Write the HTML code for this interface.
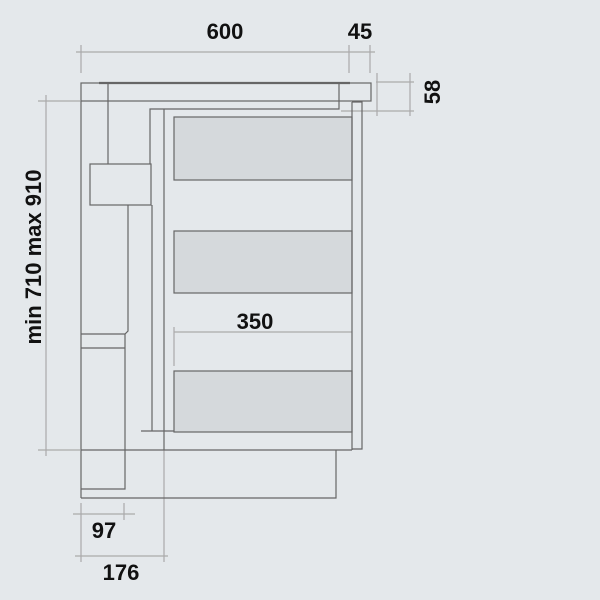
<!DOCTYPE html>
<html><head><style>
body{margin:0;background:#e4e8eb;}
svg{display:block}
text{font-family:"Liberation Sans",sans-serif;font-weight:bold;fill:#111;font-size:22px}
</style></head><body>
<svg width="600" height="600" viewBox="0 0 600 600">
<rect width="600" height="600" fill="#e4e8eb"/>
<g fill="#d5d9dc" stroke="#666" stroke-width="1.2">
<rect x="174" y="117" width="178" height="63"/>
<rect x="174" y="231" width="178" height="62"/>
<rect x="174" y="371" width="178" height="61"/>
</g>
<g fill="none" stroke="#aaa" stroke-width="1.2">
<line x1="76" y1="52" x2="375" y2="52"/>
<line x1="81" y1="45" x2="81" y2="73"/>
<line x1="349" y1="45" x2="349" y2="73"/>
<line x1="370" y1="45" x2="370" y2="73"/>
<line x1="376" y1="82" x2="414" y2="82"/>
<line x1="341" y1="111" x2="414" y2="111"/>
<line x1="377" y1="73" x2="377" y2="116"/>
<line x1="410" y1="73" x2="410" y2="116"/>
<line x1="46" y1="95" x2="46" y2="456"/>
<line x1="38" y1="101" x2="80" y2="101"/>
<line x1="38" y1="450" x2="80" y2="450"/>
<line x1="174" y1="332" x2="352" y2="332"/>
<line x1="174" y1="327" x2="174" y2="366"/>
<line x1="73" y1="514" x2="135" y2="514"/>
<line x1="124" y1="503" x2="124" y2="520"/>
<line x1="81" y1="503" x2="81" y2="562"/>
<line x1="75" y1="556" x2="168" y2="556"/>
<line x1="164" y1="450" x2="164" y2="562"/>
</g>
<g fill="none" stroke="#666" stroke-width="1.2">
<line x1="99" y1="83" x2="350" y2="83" stroke-width="2.2"/>
<rect x="81" y="83" width="290" height="18"/>
<line x1="81" y1="101" x2="81" y2="498"/>
<line x1="108" y1="83" x2="108" y2="164"/>
<polyline points="150,164 150,109 339,109 339,83"/>
<rect x="90" y="164" width="61" height="41"/>
<polyline points="128,205 128,331 125,334 81,334"/>
<line x1="81" y1="348" x2="125" y2="348"/>
<polyline points="125,334 125,489 81,489"/>
<line x1="152" y1="205" x2="152" y2="431"/>
<line x1="164" y1="109" x2="164" y2="431"/>
<line x1="141" y1="431" x2="174" y2="431"/>
<polyline points="352,102 362,102 362,449 352,449"/>
<line x1="352" y1="102" x2="352" y2="450"/>
<line x1="81" y1="450" x2="352" y2="450"/>
<polyline points="81,498 336,498 336,450"/>
<line x1="164" y1="431" x2="164" y2="450"/>
</g>
<text x="225" y="39" text-anchor="middle">600</text>
<text x="360" y="39" text-anchor="middle">45</text>
<text x="255" y="329" text-anchor="middle">350</text>
<text x="104" y="538" text-anchor="middle">97</text>
<text x="121" y="580" text-anchor="middle">176</text>
<text transform="translate(440,92) rotate(-90)" text-anchor="middle">58</text>
<text transform="translate(41,257) rotate(-90)" text-anchor="middle">min 710 max 910</text>
</svg>
</body></html>
